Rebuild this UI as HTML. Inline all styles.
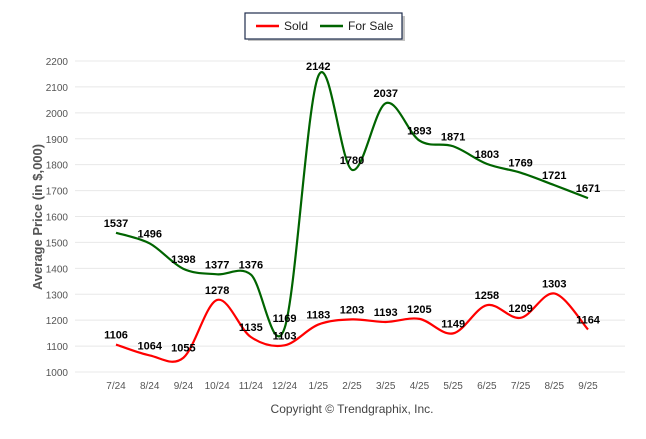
<!DOCTYPE html>
<html><head><meta charset="utf-8"><style>
body{margin:0;background:#fff;font-family:"Liberation Sans",sans-serif}
svg text{font-family:"Liberation Sans",sans-serif}
</style></head><body>
<svg width="646" height="434">
<g id="grid"></g>
<g id="lines"></g>
<g id="labels"></g>
<text transform="translate(42,217) rotate(-90)" text-anchor="middle" font-size="13" font-weight="bold" fill="#555">Average Price (in $,000)</text>
<text x="352" y="413" text-anchor="middle" font-size="12" fill="#444">Copyright © Trendgraphix, Inc.</text>
<g>
<rect x="248" y="16" width="157" height="25" fill="#888" opacity="0.5"/>
<rect x="245" y="13" width="157" height="26" fill="#fff" stroke="#1f2d4d" stroke-width="1.2"/>
<line x1="256" y1="26" x2="279" y2="26" stroke="#f00" stroke-width="2.5"/>
<text x="284" y="30" font-size="12" fill="#222">Sold</text>
<line x1="320" y1="26" x2="343" y2="26" stroke="#006400" stroke-width="2.5"/>
<text x="348" y="30" font-size="12" fill="#222">For Sale</text>
</g>
</svg>
<script>
const categories=["7/24","8/24","9/24","10/24","11/24","12/24","1/25","2/25","3/25","4/25","5/25","6/25","7/25","8/25","9/25"];
const sold=[1106,1064,1055,1278,1135,1103,1183,1203,1193,1205,1149,1258,1209,1303,1164];
const forSale=[1537,1496,1398,1377,1376,1169,2142,1780,2037,1893,1871,1803,1769,1721,1671];
const yTicks=[1000,1100,1200,1300,1400,1500,1600,1700,1800,1900,2000,2100,2200];
const NS="http://www.w3.org/2000/svg";
const L=75,R=625,T=61,B=372,yMin=1000,yMax=2200;
const x=i=>116+i*(588-116)/(categories.length-1);
const y=v=>B-(v-yMin)/(yMax-yMin)*(B-T);
function mk(t,a,p){const e=document.createElementNS(NS,t);for(const k in a)e.setAttribute(k,a[k]);p.appendChild(e);return e;}
const g=document.getElementById('grid');
yTicks.forEach(v=>{
 const l=mk('line',{x1:L,x2:R,y1:y(v),y2:y(v),stroke:'#e8e8e8'},g);
 
 
 const t=mk('text',{x:L-7,y:y(v)+4,'text-anchor':'end','font-size':10,fill:'#555'},g);
 t.textContent=v;
 
 
});
categories.forEach((c,i)=>{
 const t=mk('text',{x:x(i),y:389,'text-anchor':'middle','font-size':10,fill:'#555'},g);
 t.textContent=c;
 
 
});
function path(vals){
 const p=vals.map((v,i)=>[x(i),y(v)]);
 let d='M'+p[0][0]+','+p[0][1];
 for(let i=0;i<p.length-1;i++){
  const p0=p[i-1]||p[i],p1=p[i],p2=p[i+1],p3=p[i+2]||p2;const k=0.5/3*1.0;
  d+=` C${p1[0]+(p2[0]-p0[0])*k},${p1[1]+(p2[1]-p0[1])*k} ${p2[0]-(p3[0]-p1[0])*k},${p2[1]-(p3[1]-p1[1])*k} ${p2[0]},${p2[1]}`;
 }
 return d;
}
const lg=document.getElementById('lines'),lb=document.getElementById('labels');
[[forSale,'#006400','for-sale-line'],[sold,'#f00','sold-line']].forEach(([vals,col,name])=>{
 const p=mk('path',{d:path(vals),fill:'none',stroke:col,'stroke-width':2.2},lg);
 
 
 vals.forEach((v,i)=>{
  const t=mk('text',{x:x(i),y:y(v)-6,'text-anchor':'middle','font-size':11,'font-weight':'bold',fill:'#000'},lb);
  t.textContent=v;
  
  
 });
});
</script>
</body></html>
